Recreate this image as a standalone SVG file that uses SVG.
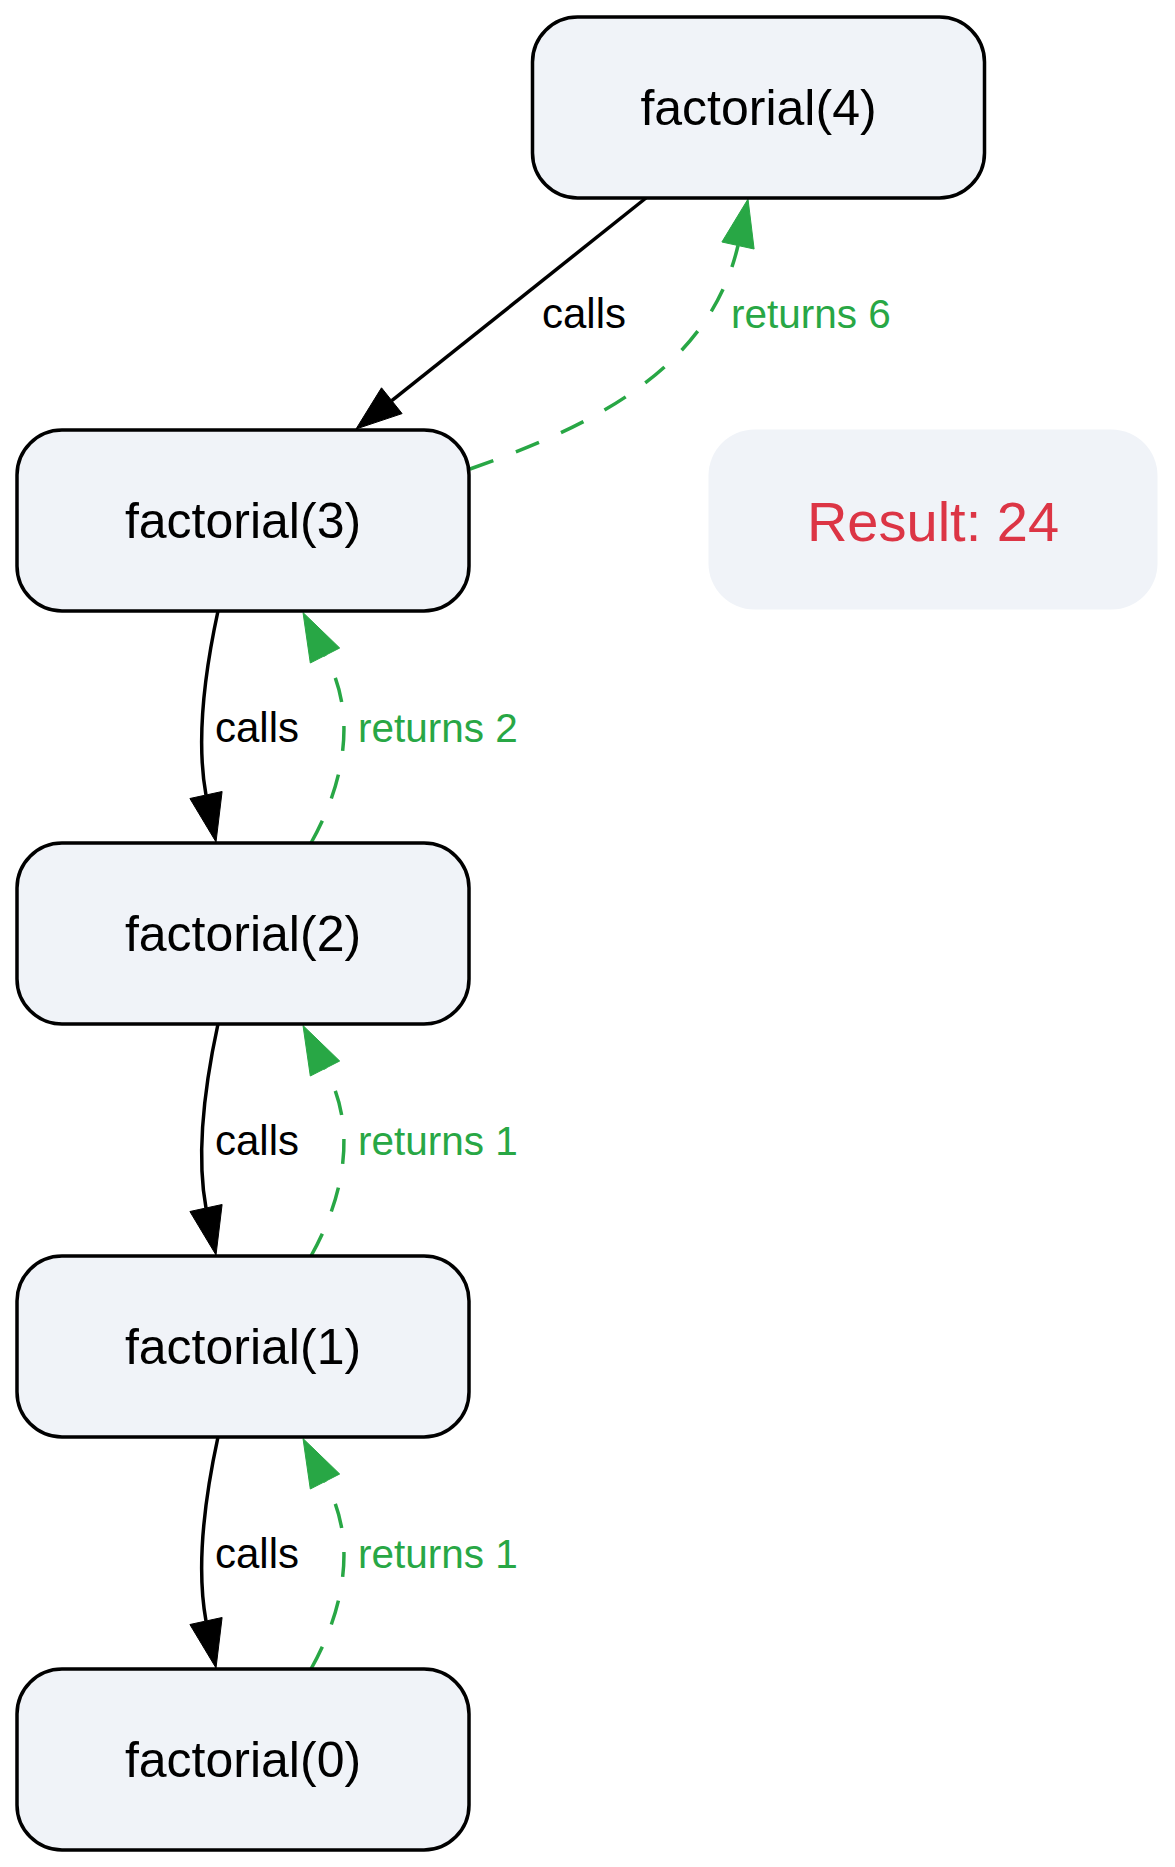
<svg xmlns="http://www.w3.org/2000/svg" width="1175" height="1867" viewBox="0 0 1175 1867">
<style>
  .box { fill: #f0f3f8; stroke: #000000; stroke-width: 3.5; }
  .res { fill: #f0f3f8; stroke: none; }
  .ntext { font-family: "Liberation Sans", Arial, Helvetica, sans-serif; font-size: 50px; fill: #000000; text-anchor: middle; }
  .rtext { font-family: "Liberation Sans", Arial, Helvetica, sans-serif; font-size: 56px; fill: #dc3545; text-anchor: middle; }
  .call { fill: none; stroke: #000000; stroke-width: 3.5; }
  .ret { fill: none; stroke: #28a745; stroke-width: 3.5; stroke-dasharray: 25,24; }
  .callhead { fill: #000000; stroke: #000000; stroke-width: 1; }
  .rethead { fill: #28a745; stroke: #28a745; stroke-width: 1; }
  .clabel { font-family: "Liberation Sans", Arial, Helvetica, sans-serif; font-size: 42px; fill: #000000; }
  .rlabel { font-family: "Liberation Sans", Arial, Helvetica, sans-serif; font-size: 40.5px; fill: #28a745; }
</style>
<rect x="0" y="0" width="1175" height="1867" fill="#ffffff"/>
<g id="connectors">
  <g id="e-f4-f3">
    <path class="call" d="M646,198 L391.8,400.7"/>
    <polygon class="callhead" points="356,429 402.1,413.6 381.5,387.8"/>
    <text class="clabel" x="542" y="328">calls</text>
  </g>
  <g id="e-f3-f4">
    <path class="ret" d="M470,469 C580,430 708,375 738,245.5"/>
    <polygon class="rethead" points="748,199 754.1,249 721.9,242"/>
    <text class="rlabel" x="731" y="328">returns 6</text>
  </g>
  <g id="pair-32" transform="translate(0,610.5)">
    <path class="call" d="M218,0.5 C204,65 196,130 206,184.5"/>
    <polygon class="callhead" points="216,231.5 222.1,181 189.9,188"/>
    <text class="clabel" x="215" y="131">calls</text>
    <path class="ret" d="M311,232.5 C338,185 362,110 325,45"/>
    <polygon class="rethead" points="303,2 339.7,37.5 310.3,52.5"/>
    <text class="rlabel" x="358" y="131">returns 2</text>
  </g>
  <g id="pair-21" transform="translate(0,1023.5)">
    <path class="call" d="M218,0.5 C204,65 196,130 206,184.5"/>
    <polygon class="callhead" points="216,231.5 222.1,181 189.9,188"/>
    <text class="clabel" x="215" y="131">calls</text>
    <path class="ret" d="M311,232.5 C338,185 362,110 325,45"/>
    <polygon class="rethead" points="303,2 339.7,37.5 310.3,52.5"/>
    <text class="rlabel" x="358" y="131">returns 1</text>
  </g>
  <g id="pair-10" transform="translate(0,1436.5)">
    <path class="call" d="M218,0.5 C204,65 196,130 206,184.5"/>
    <polygon class="callhead" points="216,231.5 222.1,181 189.9,188"/>
    <text class="clabel" x="215" y="131">calls</text>
    <path class="ret" d="M311,232.5 C338,185 362,110 325,45"/>
    <polygon class="rethead" points="303,2 339.7,37.5 310.3,52.5"/>
    <text class="rlabel" x="358" y="131">returns 1</text>
  </g>
</g>
<g id="f4">
  <rect class="box" x="532.5" y="17" width="452" height="181" rx="45" ry="45"/>
  <text class="ntext" x="758.5" y="125">factorial(4)</text>
</g>
<g id="f3">
  <rect class="box" x="17" y="430" width="452" height="181" rx="45" ry="45"/>
  <text class="ntext" x="243" y="538">factorial(3)</text>
</g>
<g id="f2">
  <rect class="box" x="17" y="843" width="452" height="181" rx="45" ry="45"/>
  <text class="ntext" x="243" y="951">factorial(2)</text>
</g>
<g id="f1">
  <rect class="box" x="17" y="1256" width="452" height="181" rx="45" ry="45"/>
  <text class="ntext" x="243" y="1364">factorial(1)</text>
</g>
<g id="f0">
  <rect class="box" x="17" y="1669" width="452" height="181" rx="45" ry="45"/>
  <text class="ntext" x="243" y="1777">factorial(0)</text>
</g>
<g id="result">
  <rect class="res" x="708.5" y="429.5" width="449" height="180" rx="46" ry="46"/>
  <text class="rtext" x="933" y="541">Result: 24</text>
</g>
</svg>
